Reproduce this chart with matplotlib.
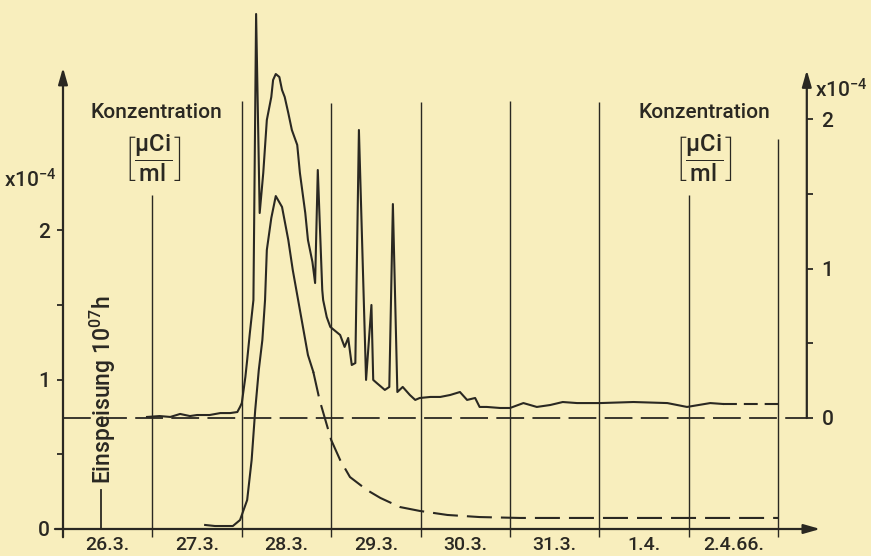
import matplotlib
matplotlib.use('Agg')
import matplotlib.pyplot as plt

# day axis: 26.0 = start of 26 March 1966, labels sit in the middle of each day
day_label_pos = [26.5, 27.5, 28.5, 29.5, 30.5, 31.5, 32.5, 33.5]
day_labels = ['26.3.', '27.3.', '28.3.', '29.3.', '30.3.', '31.3.', '1.4.', '2.4.66.']

# midnight grid lines and how far up each one is drawn (left-axis units)
grid_days = [27, 28, 29, 30, 31, 32, 33, 34]
grid_tops = [2.24, 2.87, 2.85, 2.86, 2.87, 2.86, 2.24, 2.61]

injection_day = 26.42   # Einspeisung 10.07 h

# lower curve, left axis [1e-4 uCi/ml]
lower_day = [27.59, 27.70, 27.81, 27.90, 27.98, 28.06, 28.11, 28.15, 28.19, 28.23,
             28.26, 28.28, 28.33, 28.38, 28.45, 28.52, 28.57, 28.63, 28.70, 28.74,
             28.80, 28.87, 29.00, 29.10, 29.21, 29.40, 29.55, 29.77, 29.99, 30.30,
             30.66, 31.11, 32.01, 34.00]
lower_val = [0.027, 0.020, 0.020, 0.020, 0.060, 0.194, 0.462, 0.797, 1.065, 1.266,
             1.534, 1.869, 2.083, 2.230, 2.157, 1.936, 1.735, 1.534, 1.299, 1.165,
             1.052, 0.864, 0.596, 0.462, 0.348, 0.261, 0.208, 0.147, 0.121, 0.094,
             0.080, 0.074, 0.074, 0.074]
lower_solid_end = 20   # measured up to here, extrapolated (dashed) after

# upper curve, right axis [1e-4 uCi/ml]
upper_day = [26.94, 27.08, 27.20, 27.31, 27.42, 27.50, 27.64, 27.76, 27.87, 27.95,
             27.98, 28.00, 28.04, 28.06, 28.09, 28.13, 28.16, 28.20, 28.24, 28.28,
             28.33, 28.35, 28.38, 28.42, 28.45, 28.48, 28.52, 28.56, 28.62, 28.65,
             28.71, 28.74, 28.79, 28.82, 28.85, 28.90, 28.91, 28.95, 28.99, 29.10,
             29.15, 29.19, 29.23, 29.27, 29.31, 29.39, 29.45, 29.47, 29.51, 29.60,
             29.65, 29.69, 29.74, 29.80, 29.88, 29.94, 29.99, 30.11, 30.22, 30.33,
             30.44, 30.52, 30.61, 30.66, 30.74, 30.89, 31.00, 31.15, 31.30, 31.45,
             31.59, 31.75, 31.89, 32.01, 32.38, 32.76, 32.98, 33.24, 33.38, 34.00]
upper_val = [0.007, 0.013, 0.007, 0.027, 0.013, 0.020, 0.020, 0.033, 0.033, 0.040,
             0.074, 0.100, 0.275, 0.388, 0.569, 0.790, 2.706, 1.373, 1.641, 1.996,
             2.150, 2.264, 2.304, 2.284, 2.197, 2.150, 2.043, 1.929, 1.829, 1.641,
             1.373, 1.192, 1.045, 0.904, 1.661, 0.857, 0.790, 0.676, 0.610, 0.556,
             0.476, 0.536, 0.355, 0.368, 1.929, 0.255, 0.757, 0.255, 0.234, 0.188,
             0.208, 1.433, 0.174, 0.208, 0.154, 0.121, 0.134, 0.141, 0.141, 0.154,
             0.174, 0.121, 0.134, 0.074, 0.074, 0.067, 0.067, 0.100, 0.074, 0.087,
             0.107, 0.100, 0.100, 0.100, 0.107, 0.100, 0.074, 0.100, 0.094, 0.094]
upper_solid_end = 78

right_offset = 0.7435   # right-axis zero, in left-axis units

paper = '#f8eebd'
ink = '#2a2822'

plt.rcParams['font.family'] = ['Roboto', 'DejaVu Sans']
plt.rcParams['font.weight'] = 'medium'
plt.rcParams['mathtext.fontset'] = 'custom'
plt.rcParams['mathtext.rm'] = 'Roboto:medium'
plt.rcParams['mathtext.it'] = 'Roboto:italic'
plt.rcParams['mathtext.bf'] = 'Roboto:bold'
plt.rcParams['lines.scale_dashes'] = False
plt.rcParams['text.color'] = ink

fig = plt.figure(figsize=(8.71, 5.56), dpi=100, facecolor=paper)
ax = fig.add_axes([63 / 871, 27 / 556, 777 / 871, 524 / 556])
ax.set_facecolor('none')
ax.set_xlim(26, 26 + 777 / 89.4)
ax.set_ylim(0, 524 / 149.3)
for s in ax.spines.values():
    s.set_visible(False)

ax2 = ax.twinx()
ax2.set_ylim(-right_offset, 524 / 149.3 - right_offset)
for s in ax2.spines.values():
    s.set_visible(False)
ax2.spines['right'].set_position(('data', 34.32))

# grid and injection mark
ax.vlines(grid_days, -0.055, grid_tops, color=ink, lw=1.0, clip_on=False)
ax.plot([injection_day, injection_day], [0, 0.26], color=ink, lw=1.3)

# axes with arrow heads
arrow = dict(arrowstyle='-|>,head_length=0.7,head_width=0.2', color=ink, lw=1.6,
             mutation_scale=14, shrinkA=0, shrinkB=0)
ax.annotate('', xy=(26, 3.09), xytext=(26, -0.055), arrowprops=arrow, annotation_clip=False)
ax.annotate('', xy=(34.47, 0), xytext=(25.91, 0), arrowprops=arrow, annotation_clip=False)
ax2.annotate('', xy=(34.32, 2.33), xytext=(34.32, 0), arrowprops=arrow, annotation_clip=False)

# curves
ax.plot(lower_day[:lower_solid_end + 1], lower_val[:lower_solid_end + 1], color=ink, lw=1.5)
ax.plot(lower_day[lower_solid_end:], lower_val[lower_solid_end:], color=ink, lw=1.5,
        dashes=(18, 6.5))
ax2.plot([26, 34.32], [0, 0], color=ink, lw=1.3, dashes=(20, 6))
ax2.plot(upper_day[:upper_solid_end + 1], upper_val[:upper_solid_end + 1], color=ink, lw=1.5)
ax2.plot(upper_day[upper_solid_end:], upper_val[upper_solid_end:], color=ink, lw=1.5,
         dashes=(10, 5))

# ticks
ax.set_xticks(day_label_pos, day_labels)
ax.tick_params(axis='x', length=0, pad=5, labelsize=14, labelcolor=ink)
ax.set_yticks([0, 1, 2], ['0', '1', '2'])
ax.set_yticks([0.5, 1.5], minor=True)
ax.tick_params(axis='y', which='both', direction='out', length=4.5, width=1.3,
               color=ink, labelsize=15, pad=5, labelcolor=ink)
ax2.set_yticks([0, 1, 2], ['0', '1', '2'])
ax2.set_yticks([0.5, 1.5], minor=True)
ax2.tick_params(axis='y', which='both', direction='out', length=4.5, width=1.3,
                color=ink, labelsize=15, pad=6, labelcolor=ink)

# labels
unit = r'$\left[\dfrac{\mathrm{\mu Ci}}{\mathrm{ml}}\right]$'
ax.text(27.04, 2.793, 'Konzentration', ha='center', va='center', fontsize=15)
ax.text(27.0, 2.485, unit, ha='center', va='center', fontsize=17)
ax.text(33.17, 2.793, 'Konzentration', ha='center', va='center', fontsize=15)
ax.text(33.16, 2.485, unit, ha='center', va='center', fontsize=17)
ax.text(25.93, 2.29, r'x10$^{-4}$', ha='right', va='baseline', fontsize=15)
ax.text(34.41, 2.887, r'x10$^{-4}$', ha='left', va='baseline', fontsize=15)
ax.text(26.45, 0.30, r'Einspeisung 10$^{07}$h', rotation=90, ha='center', va='bottom',
        fontsize=16.5)

fig.savefig('out.png', dpi=100, facecolor=paper)
